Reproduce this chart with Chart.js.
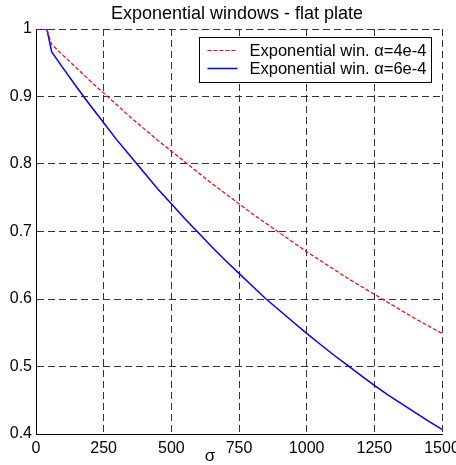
<!DOCTYPE html>
<html><head><meta charset="utf-8">
<script src="https://cdn.jsdelivr.net/npm/chart.js@4"></script>
<style>html,body{margin:0;padding:0;background:#fff}canvas{display:block}</style>
</head><body>
<canvas id="c" width="456" height="465"></canvas>
<script>
const titleText = 'Exponential windows - flat plate';
const xLabel = '\u03c3';
const seriesLabels = ['Exponential win. \u03b1=4e-4', 'Exponential win. \u03b1=6e-4'];
const sigma = [0, 40, 58, 100, 150, 200, 250, 300, 350, 400, 450, 500, 550, 600, 650, 700, 750,
  800, 850, 900, 950, 1000, 1050, 1100, 1150, 1200, 1250, 1300, 1350, 1400, 1450, 1500];
const win4 = [1, 1, 0.977, 0.961, 0.942, 0.923, 0.905, 0.887, 0.869, 0.852, 0.835, 0.819, 0.803,
  0.787, 0.771, 0.756, 0.741, 0.726, 0.712, 0.698, 0.684, 0.670, 0.657, 0.644, 0.631, 0.619, 0.607,
  0.595, 0.583, 0.571, 0.560, 0.549];
const win6 = [1, 1, 0.966, 0.942, 0.914, 0.887, 0.861, 0.835, 0.811, 0.787, 0.763, 0.741, 0.719,
  0.698, 0.677, 0.657, 0.638, 0.619, 0.600, 0.583, 0.566, 0.549, 0.533, 0.517, 0.502, 0.487, 0.472,
  0.458, 0.445, 0.432, 0.419, 0.407];
const xTicks = [0, 250, 500, 750, 1000, 1250, 1500];
const xTickLabels = ['0', '250', '500', '750', '1000', '1250', '1500'];
const yTicks = [0.4, 0.5, 0.6, 0.7, 0.8, 0.9, 1];
const yTickLabels = ['0.4', '0.5', '0.6', '0.7', '0.8', '0.9', '1'];

const FONT = 'Liberation Sans, Arial, sans-serif';

function labelFor(ticks, labels) {
  return (v) => { const i = ticks.findIndex(t => Math.abs(t - v) < 1e-9); return i >= 0 ? labels[i] : ''; };
}

const decor = {
  id: 'decor',
  afterDraw(chart) {
    const ctx = chart.ctx, ca = chart.chartArea;
    ctx.save();
    ctx.fillStyle = '#000';
    ctx.font = '18px ' + FONT;
    ctx.textAlign = 'center';
    ctx.textBaseline = 'middle';
    ctx.fillText(titleText, (ca.left + ca.right) / 2 - 2, 14);
    ctx.font = '17px ' + FONT;
    ctx.fillText(xLabel, (ca.left + ca.right) / 2 - 29, 456);
    const right = ca.right - 10.5, top = ca.top + 8.5, w = 232, h = 45;
    const left = right - w;
    ctx.fillStyle = '#fff';
    ctx.fillRect(left, top, w, h);
    ctx.strokeStyle = '#000';
    ctx.lineWidth = 1;
    ctx.strokeRect(left, top, w, h);
    const ds = chart.data.datasets;
    const rows = [top + 13, top + 31];
    ds.forEach((d, i) => {
      ctx.beginPath();
      ctx.strokeStyle = d.borderColor;
      ctx.lineWidth = d.borderWidth;
      ctx.setLineDash(d.borderDash || []);
      ctx.moveTo(left + 8, rows[i]);
      ctx.lineTo(left + 38, rows[i]);
      ctx.stroke();
      ctx.setLineDash([]);
      ctx.fillStyle = '#000';
      ctx.font = '16.5px ' + FONT;
      ctx.textAlign = 'left';
      ctx.textBaseline = 'middle';
      ctx.fillText(d.label, left + 50, rows[i] + 1);
    });
    ctx.restore();
  }
};

new Chart(document.getElementById('c'), {
  type: 'line',
  data: {
    datasets: [
      { label: seriesLabels[0], data: sigma.map((s, i) => ({ x: s, y: win4[i] })),
        borderColor: '#ff0000', borderWidth: 1.2, borderDash: [4, 2], pointRadius: 0, fill: false, tension: 0 },
      { label: seriesLabels[1], data: sigma.map((s, i) => ({ x: s, y: win6[i] })),
        borderColor: '#0000ff', borderWidth: 1.5, pointRadius: 0, fill: false, tension: 0 }
    ]
  },
  options: {
    responsive: false,
    animation: false,
    devicePixelRatio: 1,
    layout: { padding: { left: 0, right: 14, top: 29, bottom: 0 } },
    plugins: { legend: { display: false }, title: { display: false }, tooltip: { enabled: false } },
    scales: {
      x: {
        type: 'linear', min: 0, max: 1500,
        afterBuildTicks: s => { s.ticks = xTicks.map(v => ({ value: v })); },
        afterFit: s => { s.height = 31; s.paddingLeft = 0; s.paddingRight = 0; },
        ticks: { font: { family: FONT, size: 16 }, color: '#000', padding: 5, maxRotation: 0, autoSkip: false,
          callback: labelFor(xTicks, xTickLabels) },
        grid: { color: '#333', lineWidth: 1, drawTicks: false },
        border: { display: true, color: '#000', width: 1, dash: [7, 4] }
      },
      y: {
        type: 'linear', min: 0.4, max: 1,
        afterBuildTicks: s => { s.ticks = yTicks.map(v => ({ value: v })); },
        afterFit: s => { s.width = 36; s.paddingTop = 0; s.paddingBottom = 0; },
        ticks: { font: { family: FONT, size: 16 }, color: '#000', padding: 4, autoSkip: false,
          callback: labelFor(yTicks, yTickLabels) },
        grid: { color: '#333', lineWidth: 1, drawTicks: false },
        border: { display: true, color: '#000', width: 1, dash: [7, 4] }
      }
    }
  },
  plugins: [decor]
});
</script>
</body></html>
